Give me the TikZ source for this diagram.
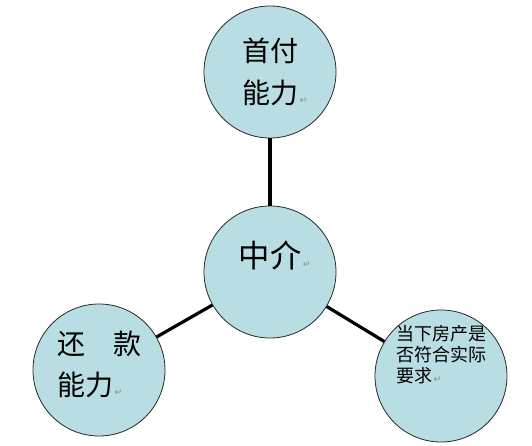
\documentclass[tikz,border=0pt]{standalone}
\usepackage{fontspec}
\newfontfamily\cjk{Noto Sans CJK SC}
\newfontfamily\symfont{DejaVu Sans}
\definecolor{ballfill}{RGB}{184,222,227}
\newcommand\retmark{\rlap{\symfont\color{black!45}\fontsize{7}{7}\selectfont\,↵}}
\tikzset{
  ball/.style={circle,draw=black!85,line width=0.6pt,fill=ballfill,minimum size=99pt,inner sep=0pt},
  bigtext/.style={font=\cjk\fontsize{21}{31}\selectfont,align=left,inner sep=0pt},
  smalltext/.style={font=\cjk\fontsize{13.5}{15.5}\selectfont,align=left,inner sep=0pt},
  link/.style={line width=2.4pt}
}
\begin{document}
\begin{tikzpicture}[x=0.75pt,y=-0.75pt]
  \useasboundingbox (0,0) rectangle (532,446);
  \node [ball] (sf) at (270,72) {};
  \node [ball] (zj) at (270,272) {};
  \node [ball] (hk) at (99,370) {};
  \node [ball] (fc) at (441,376) {};
  \draw [link] (sf) -- (zj);
  \draw [link] (zj) -- (hk);
  \draw [link] (zj) -- (fc);
  \node [bigtext] (sft) at (sf.center) {首付\\能力\retmark};
  \node [bigtext,font=\cjk\fontsize{23.5}{31}\selectfont] (zjt) at ([yshift=12pt]zj.center) {中介\retmark};
  \node [bigtext] (hkt) at ([yshift=4pt]hk.center) {还　款\\能力\retmark};
  \node [smalltext] (fct) at ([yshift=16pt]fc.center) {当下房产是\\否符合实际\\要求\retmark};
\end{tikzpicture}
\end{document}
